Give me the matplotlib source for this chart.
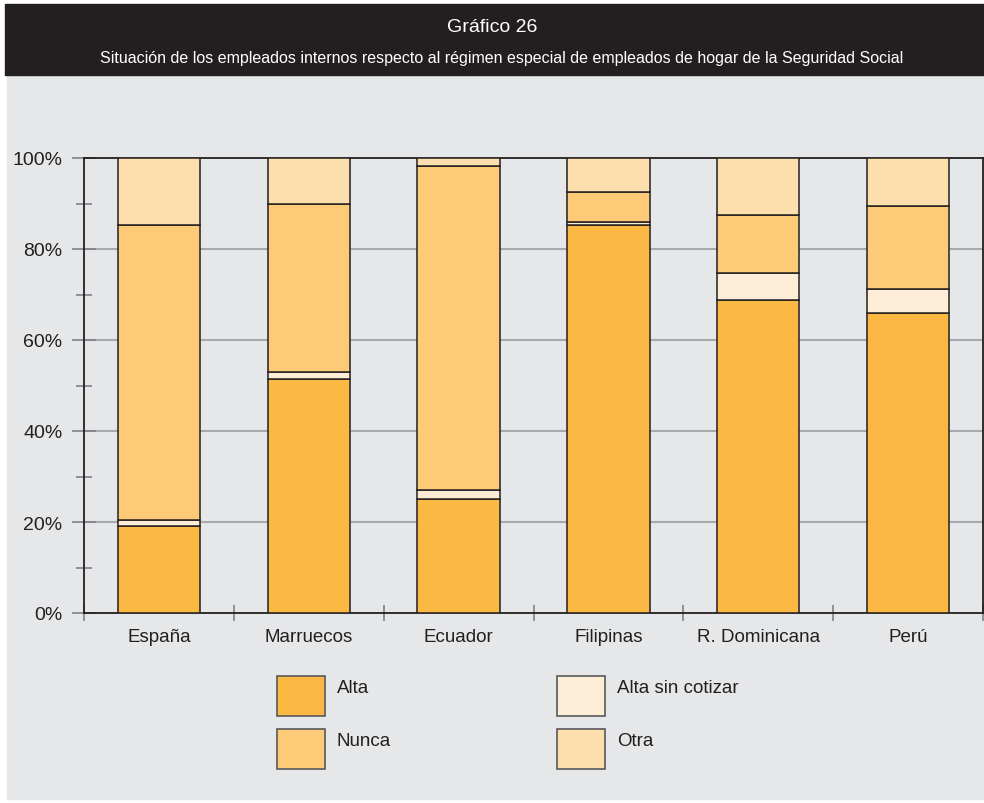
import numpy as np
import matplotlib.pyplot as plt
from matplotlib.patches import Rectangle

# Data (percent of each group)
paises = ['España', 'Marruecos', 'Ecuador', 'Filipinas', 'R. Dominicana', 'Perú']
alta = [19.2, 51.5, 25.1, 85.2, 68.7, 65.9]
alta_sin_cotizar = [1.3, 1.5, 1.9, 0.7, 6.0, 5.3]
nunca = [64.8, 36.8, 71.3, 6.7, 12.7, 18.3]
otra = [14.7, 10.2, 1.7, 7.4, 12.6, 10.5]
series_names = ['Alta', 'Alta sin cotizar', 'Nunca', 'Otra']
y_ticks = [0, 20, 40, 60, 80, 100]

colors = ['#fbb843', '#feedd6', '#fdca78', '#fddfae']
dark = '#231f20'
grey_bg = '#e6e7e8'
grid_c = '#a7a9ac'

plt.rcParams['font.family'] = ['Liberation Sans', 'DejaVu Sans']

W, H = 984, 804
fig = plt.figure(figsize=(W / 100, H / 100), dpi=100, facecolor='white')

def fx(px):
    return px / W

def fy(py):
    return 1 - py / H

# background panel and title bar
fig.patches.append(Rectangle((fx(7), fy(800)), fx(984) - fx(7), fy(77) - fy(800),
                             transform=fig.transFigure, color=grey_bg, zorder=-5))
fig.patches.append(Rectangle((fx(5), fy(76)), fx(984) - fx(5), fy(5) - fy(76),
                             transform=fig.transFigure, color=dark, zorder=-5))
fig.text(0.5, fy(27), 'Gráfico 26', color='white', fontsize=14,
         ha='center', va='center')
fig.text(0.51, fy(58), 'Situación de los empleados internos respecto al régimen especial '
         'de empleados de hogar de la Seguridad Social', color='white', fontsize=11.5,
         ha='center', va='center')

ax = fig.add_axes([fx(84), fy(614), fx(983) - fx(84), fy(159) - fy(614)])
ax.set_zorder(5)
ax.set_facecolor(grey_bg)

x = np.arange(len(paises)) + 0.5
bottom = np.zeros(len(paises))
for vals, c in zip([alta, alta_sin_cotizar, nunca, otra], colors):
    ax.bar(x, vals, width=0.55, bottom=bottom, color=c, edgecolor=dark,
           linewidth=1.1, zorder=3)
    bottom += np.array(vals)

ax.set_xlim(0, len(paises))
ax.set_ylim(0, 100)

ax.set_yticks(y_ticks)
ax.set_yticklabels([f'{v}%' for v in y_ticks])
ax.set_yticks(np.arange(10, 100, 20), minor=True)
ax.tick_params(axis='y', which='major', direction='inout', length=17,
               width=1.2, color='#808285', labelsize=14, pad=7, labelcolor=dark)
ax.tick_params(axis='y', which='minor', direction='inout', length=11.5,
               width=1.2, color='#808285')

ax.set_xticks(x)
ax.set_xticklabels(paises)
ax.set_xticks(np.arange(0, len(paises) + 1), minor=True)
ax.tick_params(axis='x', which='major', length=0, labelsize=13.5, pad=11,
               labelcolor=dark)
ax.tick_params(axis='x', which='minor', direction='inout', length=11,
               width=1.2, color='#808285')

for v in y_ticks[1:-1]:
    ax.axhline(v, color=grid_c, linewidth=1.5, zorder=1)

for s in ax.spines.values():
    s.set_color(dark)
    s.set_linewidth(1.3)

# legend
leg_pos = [(277, 677), (557, 677), (277, 730), (557, 730)]
for name, c, (px, py) in zip(series_names, colors, leg_pos):
    fig.patches.append(Rectangle((fx(px), fy(py + 40)), fx(48), 40 / H,
                                 transform=fig.transFigure, facecolor=c,
                                 edgecolor='#58595b', linewidth=1.2))
    fig.text(fx(px + 60), fy(py + 12), name, fontsize=13.5, color=dark,
             ha='left', va='center')

fig.savefig('out.png', dpi=100, facecolor='white')
